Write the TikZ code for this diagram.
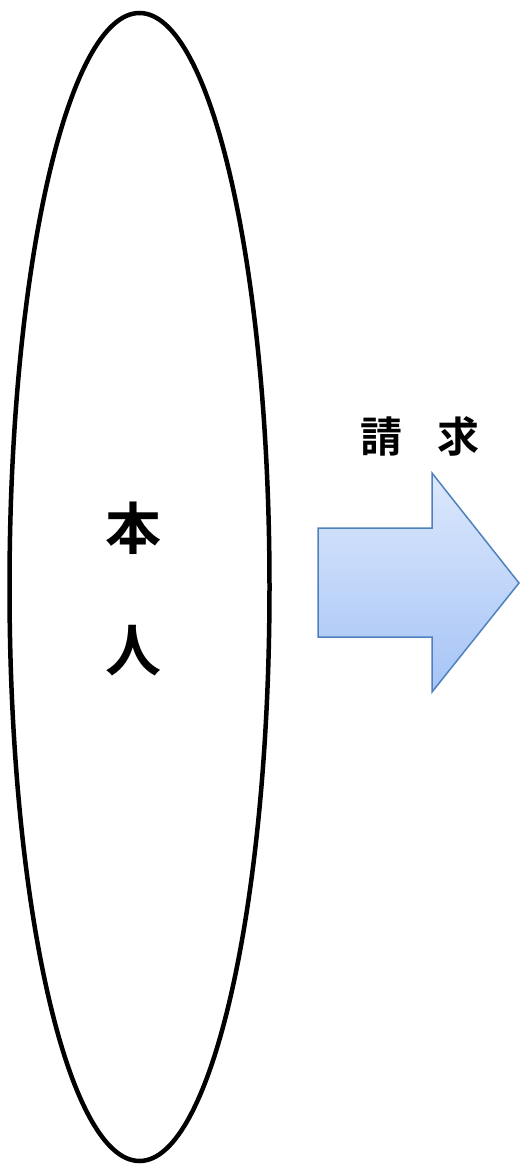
\documentclass[tikz,border=0pt]{standalone}
\usepackage{fontspec}
\newfontfamily\cjk{Noto Sans CJK JP Bold}
\begin{document}
\begin{tikzpicture}[x=1pt,y=-1pt,
  bigtxt/.style={font=\cjk\fontsize{56}{56}\selectfont,inner sep=0pt},
  labtxt/.style={font=\cjk\fontsize{42}{42}\selectfont,inner sep=0pt}]
\useasboundingbox (0,0) rectangle (521,1165);
\draw[line width=4.5pt] (139.5,587) ellipse [x radius=130, y radius=574];
\node[bigtxt] (hon) at (133,528) {本};
\node[bigtxt] (nin) at (133,651) {人};
\node[labtxt] (sei) at (381,436) {請};
\node[labtxt] (kyu) at (458,436) {求};
\shade[top color={rgb,255:red,220;green,232;blue,252},bottom color={rgb,255:red,166;green,196;blue,246},draw={rgb,255:red,79;green,129;blue,189},line width=1.5pt,line join=miter]
  (318,528) -- (432,528) -- (432,473) -- (519,583) -- (432,692) -- (432,637) -- (318,637) -- cycle;
\end{tikzpicture}
\end{document}
